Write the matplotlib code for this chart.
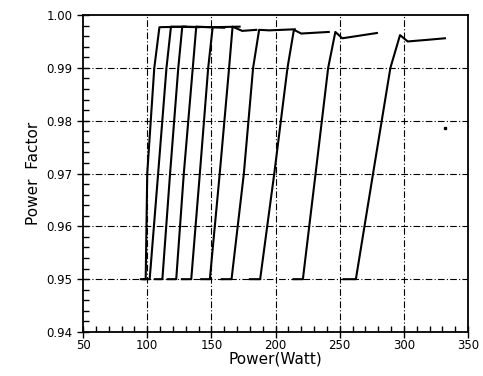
import numpy as np
import matplotlib
matplotlib.use('Agg')
import matplotlib.pyplot as plt
from matplotlib.ticker import MultipleLocator

# power (W) and power factor for each measured curve
pw1 = [95, 98.8, 100, 105.5, 109.5, 130]
pf1 = [0.95, 0.95, 0.97, 0.99, 0.9977, 0.9978]
pw2 = [97, 101.9, 108.5, 115, 118.5, 140]
pf2 = [0.95, 0.95, 0.97, 0.99, 0.9978, 0.9977]
pw3 = [106, 111.8, 117.8, 124.2, 127.3, 150]
pf3 = [0.95, 0.95, 0.97, 0.99, 0.9978, 0.9977]
pw4 = [116, 122.6, 128.5, 135.5, 138.2, 160]
pf4 = [0.95, 0.95, 0.97, 0.99, 0.9978, 0.9976]
pw5 = [127, 134.3, 141, 147.5, 151, 172]
pf5 = [0.95, 0.95, 0.97, 0.99, 0.9977, 0.9978]
pw6 = [142, 148.8, 156.5, 163.8, 166.5, 174, 185]
pf6 = [0.95, 0.95, 0.97, 0.99, 0.9978, 0.9970, 0.9972]
pw7 = [158, 165.7, 175.3, 182.5, 187.2, 195, 215]
pf7 = [0.95, 0.95, 0.97, 0.99, 0.9972, 0.9971, 0.9973]
pw8 = [180, 188, 199, 209.3, 214.3, 220, 241.5]
pf8 = [0.95, 0.95, 0.97, 0.99, 0.9972, 0.9965, 0.9968]
pw9 = [214, 221.3, 231.2, 241, 246.6, 252, 279]
pf9 = [0.95, 0.95, 0.97, 0.99, 0.9968, 0.9956, 0.9966]
pw10 = [253, 262.6, 276, 289.5, 297, 303, 318, 332]
pf10 = [0.95, 0.95, 0.97, 0.99, 0.9962, 0.9950, 0.9953, 0.9956]

curves = [(pw1, pf1), (pw2, pf2), (pw3, pf3), (pw4, pf4), (pw5, pf5),
          (pw6, pf6), (pw7, pf7), (pw8, pf8), (pw9, pf9), (pw10, pf10)]

# small stray mark on the right
stray_pw = [332]
stray_pf = [0.9786]

xticks = [50, 100, 150, 200, 250, 300, 350]
yticks = [0.94, 0.95, 0.96, 0.97, 0.98, 0.99, 1.00]

fig = plt.figure(figsize=(4.83, 3.76), dpi=100)
ax = fig.add_axes([0.172, 0.117, 0.797, 0.843])

for g in xticks[1:-1]:
    ax.axvline(g, color='black', lw=0.8, ls='-.', dashes=(6, 2, 1, 2))
for g in yticks[1:-1]:
    ax.axhline(g, color='black', lw=0.8, ls='-.', dashes=(6, 2, 1, 2))

for x, y in curves:
    ax.plot(x, y, color='black', lw=1.5)

ax.plot(stray_pw, stray_pf, 's', color='black', ms=1.5)

ax.set_xlim(50, 350)
ax.set_ylim(0.94, 1.00)
ax.set_xticks(xticks)
ax.set_yticks(yticks)
ax.set_yticklabels(['%.2f' % v for v in yticks])
ax.xaxis.set_minor_locator(MultipleLocator(10))
ax.yaxis.set_minor_locator(MultipleLocator(0.002))
ax.tick_params(which='major', direction='inout', length=8, width=1, labelsize=8.5)
ax.tick_params(which='minor', direction='in', length=4, width=1)
ax.tick_params(axis='x', pad=1)

for s in ax.spines.values():
    s.set_linewidth(1.3)

ax.set_xlabel('Power(Watt)', fontsize=11, labelpad=0)
ax.set_ylabel('Power  Factor', fontsize=11, labelpad=4)

fig.savefig('out.png', dpi=100)
